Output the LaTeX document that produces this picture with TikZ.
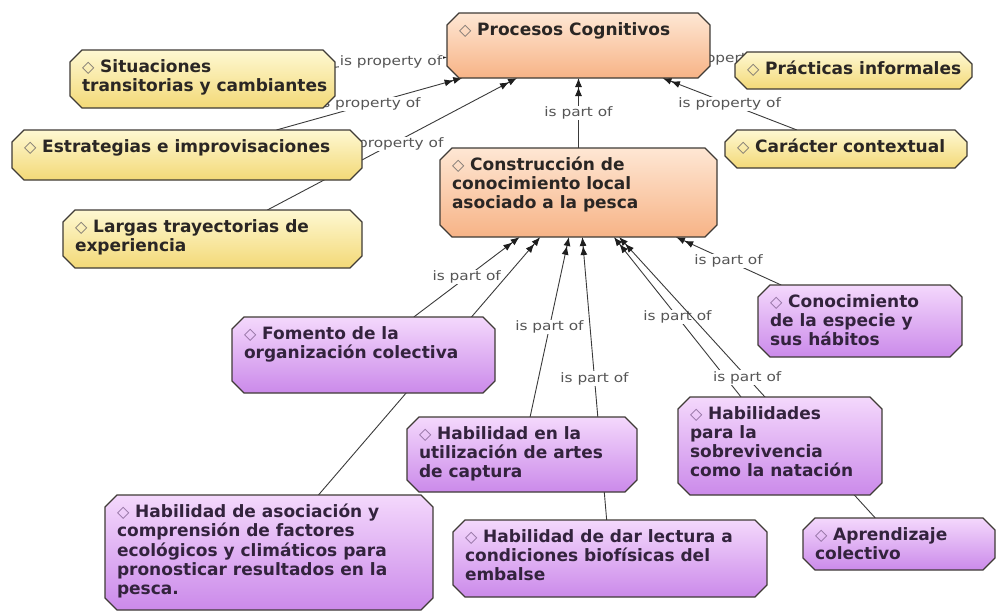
\documentclass[tikz,border=0pt]{standalone}
\usepackage{fontspec}
\setmainfont{DejaVu Sans}
\newfontfamily\lblfont[FakeStretch=1.18]{DejaVu Sans}
\usetikzlibrary{shapes.misc,arrows.meta,backgrounds}

\definecolor{boxline}{HTML}{3F3B36}
\definecolor{txtcol}{HTML}{2A2624}
\definecolor{txtpurple}{HTML}{33233D}
\definecolor{dmcol}{HTML}{7A7470}
\definecolor{dmpurple}{HTML}{8E6E9E}
\definecolor{edgecol}{HTML}{3A3A3A}
\definecolor{tipcol}{HTML}{1E1E1E}
\definecolor{lblcol}{HTML}{555555}
\definecolor{orangetop}{HTML}{FEE7D4}
\definecolor{orangebot}{HTML}{F7B386}
\definecolor{yellowtop}{HTML}{FEF8D2}
\definecolor{yellowbot}{HTML}{F3D977}
\definecolor{purpletop}{HTML}{F4D8FC}
\definecolor{purplebot}{HTML}{CB8AEA}

% text block of a concept box: width, height, lines (one per row)
\newcommand{\bx}[3]{\parbox[t][#2pt][t]{#1pt}{%
  \begin{tabular}[t]{@{}l@{}}#3\end{tabular}}}
\newcommand{\dm}{{\color{dmcol}\fontsize{16}{16}\selectfont\mdseries\char"25C7}\ }
\newcommand{\dmp}{{\color{dmpurple}\fontsize{16}{16}\selectfont\mdseries\char"25C7}\ }

\tikzset{
  concept/.style={chamfered rectangle, chamfered rectangle xsep=6pt,
    chamfered rectangle ysep=6pt, draw=boxline, line width=1.3pt,
    inner xsep=6pt, inner ysep=3pt, outer sep=0pt, text=txtcol,
    font=\fontsize{17}{19}\selectfont\bfseries},
  orangebox/.style={concept, top color=orangetop, bottom color=orangebot},
  yellowbox/.style={concept, top color=yellowtop, bottom color=yellowbot},
  purplebox/.style={concept, top color=purpletop, bottom color=purplebot,
    text=txtpurple},
  conn/.style={draw=edgecol, line width=0.9pt,
    -{Latex[length=9pt,width=7pt,color=tipcol] Latex[length=9pt,width=7pt,color=tipcol]}},
  lbl/.style={fill=white, inner sep=1pt, text=lblcol,
    font=\lblfont\fontsize{13}{15}\selectfont},
}

\begin{document}
\begin{tikzpicture}[x=1pt,y=-1pt]
\useasboundingbox (0,0) rectangle (997,613);

% core concepts
\node[orangebox] (PC) at (578.5,45.5) {\bx{239}{47}{\dm Procesos Cognitivos}};
\node[orangebox] (CO) at (578.5,192.5) {\bx{253}{71}{\dm Construcción de\\conocimiento local\\asociado a la pesca}};

% properties
\node[yellowbox] (S) at (202.5,79) {\bx{241}{40}{\dm Situaciones\\transitorias y cambiantes}};
\node[yellowbox] (E) at (187,155) {\bx{326}{32}{\dm Estrategias e improvisaciones}};
\node[yellowbox] (L) at (212.5,239) {\bx{275}{40}{\dm Largas trayectorias de\\experiencia}};
\node[yellowbox] (PI) at (853.5,70.5) {\bx{213}{19}{\dm Prácticas informales}};
\node[yellowbox] (CC) at (846,149) {\bx{218}{20}{\dm Carácter contextual}};

% parts
\node[purplebox] (CE) at (860,321) {\bx{180}{54}{\dmp Conocimiento\\de la especie y\\sus hábitos}};
\node[purplebox] (F) at (363.5,355) {\bx{239}{58}{\dmp Fomento de la\\organización colectiva}};
\node[purplebox] (HU) at (522,454.5) {\bx{206}{57}{\dmp Habilidad en la\\utilización de artes\\de captura}};
\node[purplebox] (HA) at (269,552.5) {\bx{304}{97}{\dmp Habilidad de asociación y\\comprensión de factores\\ecológicos y climáticos para\\pronosticar resultados en la\\pesca.}};
\node[purplebox] (HD) at (610,558.5) {\bx{290}{59}{\dmp Habilidad de dar lectura a\\condiciones biofísicas del\\embalse}};
\node[purplebox] (HS) at (780,446) {\bx{180}{80}{\dmp Habilidades\\para la\\sobrevivencia\\como la natación}};
\node[purplebox] (AC) at (899,544) {\bx{168}{34}{\dmp Aprendizaje\\colectivo}};

% relations, kept behind the boxes
\begin{scope}[on background layer]
  \draw[conn] (S)  -- node[lbl]{is property of} (PC);
  \draw[conn] (E)  -- node[lbl]{is property of} (PC);
  \draw[conn] (L)  -- node[lbl]{is property of} (PC);
  \draw[conn] (PI) -- node[lbl]{is property of} (PC);
  \draw[conn] (CC) -- node[lbl]{is property of} (PC);
  \draw[conn] (CO) -- node[lbl]{is part of} (PC);
  \draw[conn] (F)  -- node[lbl]{is part of} (CO);
  \draw[conn] (HA) -- (CO);
  \draw[conn] (HU) -- node[lbl]{is part of} (CO);
  \draw[conn] (HD) -- node[lbl]{is part of} (CO);
  \draw[conn] (HS) -- node[lbl]{is part of} (CO);
  \draw[conn] (AC) -- node[lbl]{is part of} (CO);
  \draw[conn] (CE) -- node[lbl]{is part of} (CO);
\end{scope}
\end{tikzpicture}
\end{document}
